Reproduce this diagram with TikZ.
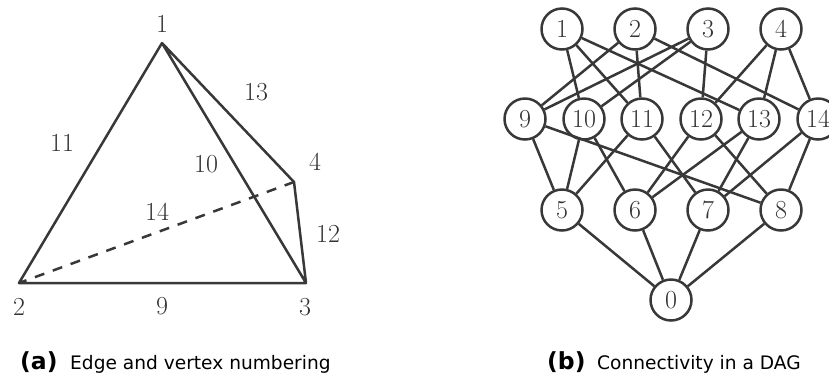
\documentclass[tikz,border=0pt]{standalone}
\usepackage{fontspec}
\newfontfamily\capfont{DejaVu Sans}
\definecolor{ink}{gray}{0.22}
\definecolor{txt}{gray}{0.2}
\tikzset{
  every node/.style={text=txt,font=\fontsize{26}{26}\selectfont},
  edgeline/.style={draw=ink,line width=2.5pt},
  vertexnode/.style={circle,draw=ink,line width=2.5pt,minimum size=41pt,inner sep=0pt,fill=white},
  lab/.style={inner sep=0pt},
  captext/.style={inner sep=0pt,anchor=base west,text=black,font=\capfont\fontsize{18.6}{18.6}\selectfont}
}
\newcommand{\captag}[1]{\makebox[50pt][l]{\fontsize{23.5}{23.5}\selectfont\textbf{#1}}}
\begin{document}
\begin{tikzpicture}[x=1pt,y=-1pt]
\useasboundingbox (0,0) rectangle (829,376);
% left
\coordinate (A) at (162,43);
\coordinate (B) at (19,283);
\coordinate (C) at (306,283);
\coordinate (D) at (294,182);
\draw[edgeline,line join=round] (A) -- (B) -- (C) -- (A) -- (D) -- (C);
\draw[edgeline,dash pattern=on 10pt off 9pt] (D) -- (B);
\node[lab] (l1) at (162,24) {1};
\node[lab] (l2) at (19,307) {2};
\node[lab] (l3) at (305,307) {3};
\node[lab] (l4) at (315,162) {4};
\node[lab] (l9) at (162,306) {9};
\node[lab] (l10) at (206,164) {10};
\node[lab] (l11) at (62,143) {11};
\node[lab] (l12) at (328,234) {12};
\node[lab] (l13) at (256,92) {13};
\node[lab] (l14) at (157,212) {14};
\node[captext] (ca) at (20,369) {\captag{(a)}Edge and vertex numbering};
% right
\foreach \n/\x/\y in {1/562/29,2/635/29,3/708/29,4/781/29,
  9/525/119,10/584/119,11/642/119,12/701/119,13/759/119,14/818/119,
  5/562/210,6/635/210,7/708/210,8/781/210,0/671/300}
  \node[vertexnode] (n\n) at (\x,\y) {\n};
\foreach \a/\b in {1/10,1/11,1/13,2/9,2/11,2/14,3/9,3/10,3/12,4/12,4/13,4/14,
  9/5,9/8,10/5,10/6,11/5,11/7,12/6,12/8,13/6,13/7,14/7,14/8,5/0,6/0,7/0,8/0}
  \draw[edgeline] (n\a) -- (n\b);
\node[captext] (cb) at (547,369) {\captag{(b)}Connectivity in a DAG};
\end{tikzpicture}
\end{document}
